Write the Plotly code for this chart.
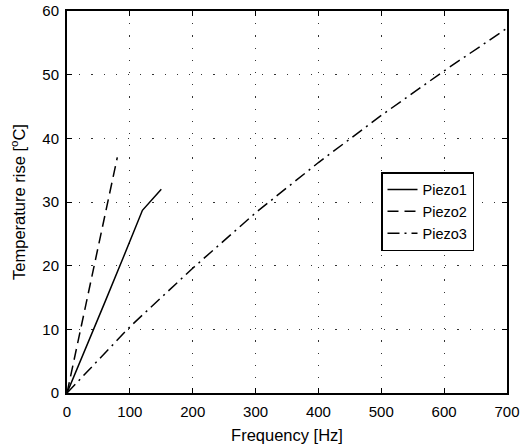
import plotly.graph_objects as go

# Temperature rise vs. drive frequency for three piezo actuators
piezo1_freq = [0, 30, 60, 90, 120, 150]
piezo1_temp = [0, 7.0, 14.2, 21.4, 28.7, 32.0]

piezo2_freq = [0, 10, 40, 80]
piezo2_temp = [0, 4.6, 18.5, 37.0]

piezo3_freq = [0, 100, 200, 300, 400, 500, 600, 700]
piezo3_temp = [0, 10.4, 19.6, 28.3, 36.2, 43.6, 50.6, 57.3]

x_ticks = [0, 100, 200, 300, 400, 500, 600, 700]
y_ticks = [0, 10, 20, 30, 40, 50, 60]

FAMILY = "Liberation Sans, Arial, sans-serif"
tick_font = dict(family=FAMILY, size=15, color="black")
title_font = dict(family=FAMILY, size=16.5, color="black")

fig = go.Figure()
fig.add_trace(go.Scatter(x=piezo1_freq, y=piezo1_temp, mode="lines", name="Piezo1",
                         line=dict(color="black", width=1.5, dash="solid")))
fig.add_trace(go.Scatter(x=piezo2_freq, y=piezo2_temp, mode="lines", name="Piezo2",
                         line=dict(color="black", width=1.5, dash="11px,6px")))
fig.add_trace(go.Scatter(x=piezo3_freq, y=piezo3_temp, mode="lines", name="Piezo3",
                         line=dict(color="black", width=1.5, dash="12px,5px,2px,5px")))

axis_common = dict(
    showline=True, linecolor="black", linewidth=2, mirror="ticks",
    ticks="inside", ticklen=5, tickcolor="black", tickwidth=1,
    showgrid=True, gridcolor="#333333", gridwidth=1, griddash="1.2px,11px",
    zeroline=False, tickfont=tick_font, automargin=False,
)

fig.update_xaxes(range=[0, 700], tickvals=x_ticks,
                 title=dict(text="Frequency [Hz]", font=title_font, standoff=10),
                 ticklabelstandoff=4,
                 **axis_common)
fig.update_yaxes(range=[0, 60], tickvals=y_ticks,
                 title=dict(text="Temperature rise [<sup>o</sup>C]", font=title_font, standoff=13),
                 ticklabelstandoff=3,
                 **axis_common)

fig.update_layout(
    width=520, height=448,
    margin=dict(l=67, r=13, t=11, b=55),
    paper_bgcolor="white", plot_bgcolor="white",
    showlegend=True,
    legend=dict(x=(381 - 67) / 440, y=(393 - 172) / 382, xanchor="left", yanchor="top",
                bgcolor="white", bordercolor="black", borderwidth=1.5,
                font=dict(family=FAMILY, size=14.5, color="black"),
                itemwidth=30, tracegroupgap=0),
)

fig.write_html("out.html")
